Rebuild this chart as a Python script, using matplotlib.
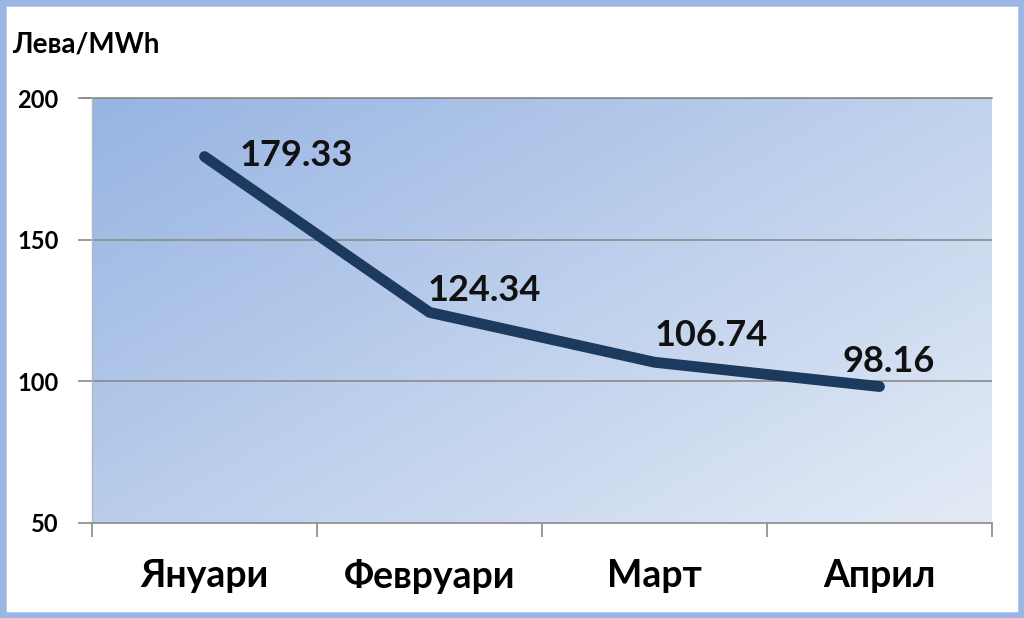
import matplotlib
matplotlib.use("Agg")
import matplotlib.pyplot as plt
import numpy as np
from matplotlib.patches import Rectangle

months = ["Януари", "Февруари", "Март", "Април"]
prices = [179.33, 124.34, 106.74, 98.16]
labels = ["179.33", "124.34", "106.74", "98.16"]
yticks = [50, 100, 150, 200]
unit_label = "Лева/MWh"

plt.rcParams['font.family'] = ['Lato', 'DejaVu Sans']

fig = plt.figure(figsize=(10.24, 6.18), dpi=100)
fig.patch.set_facecolor("white")
ax = fig.add_axes([92/1024, 1-523/618, 900/1024, 425/618])

x = np.arange(len(months))
ax.set_xlim(-0.5, len(months) - 0.5)
ax.set_ylim(50, 200)

# gradient background
ny, nx = 200, 300
gx, gy = np.meshgrid(np.linspace(0, 1, nx), np.linspace(0, 1, ny))
t = (gx * 0.55 + gy * 0.45)
c0 = np.array([0x97, 0xb4, 0xe2]) / 255
c1 = np.array([0xe4, 0xeb, 0xf6]) / 255
img = c0[None, None, :] * (1 - t[..., None]) + c1[None, None, :] * t[..., None]
ax.imshow(img, extent=[-0.5, len(months) - 0.5, 50, 200], origin="upper",
          aspect="auto", zorder=0)

for v in yticks[1:]:
    ax.axhline(v, color="#8a8a8a", lw=1.2, zorder=1)

ax.plot(x, prices, color="#1c3a5e", lw=7.8, solid_capstyle="round",
        solid_joinstyle="round", zorder=3)

offsets = [(25, 1), (-1.5, 16), (0, 19.5), (-27, 18)]
for xi, yi, lab, off in zip(x, prices, labels, offsets):
    ax.annotate(lab, (xi, yi), xytext=off, textcoords="offset points",
                ha="left", va="center", fontsize=26, fontweight="bold",
                color="#111111", zorder=4)

ax.set_yticks(yticks)
ax.set_yticklabels([str(v) for v in yticks], fontsize=17, fontweight="bold")
ax.set_xticks(x)
ax.set_xticklabels(months, fontsize=27, fontweight="bold")
ax.tick_params(axis="x", length=0, pad=26)
ax.set_xticks(np.arange(-0.5, len(months)), minor=True)
ax.tick_params(axis="x", which="minor", length=10, color="#8a8a8a", width=1.2)
ax.tick_params(axis="y", length=10, color="#8a8a8a", width=1.2, pad=14)

for s in ["top", "right"]:
    ax.spines[s].set_visible(False)
ax.spines["bottom"].set_color("#8a8a8a")
ax.spines["bottom"].set_linewidth(1.2)
ax.spines["left"].set_color("#b0b8c4")
ax.spines["left"].set_linewidth(1.0)
ax.axhline(200, xmin=-10/900, xmax=1, color="#8a8a8a", lw=1.2, clip_on=False, zorder=1)

fig.text(12/1024, 1-45/618, unit_label, fontsize=20, fontweight="bold",
         ha="left", va="center")

# frame border
fig.patches.append(Rectangle((0, 0), 1, 1, transform=fig.transFigure,
                             fill=False, edgecolor="#9ab7e4", lw=9))

fig.savefig("out.png", dpi=100)
